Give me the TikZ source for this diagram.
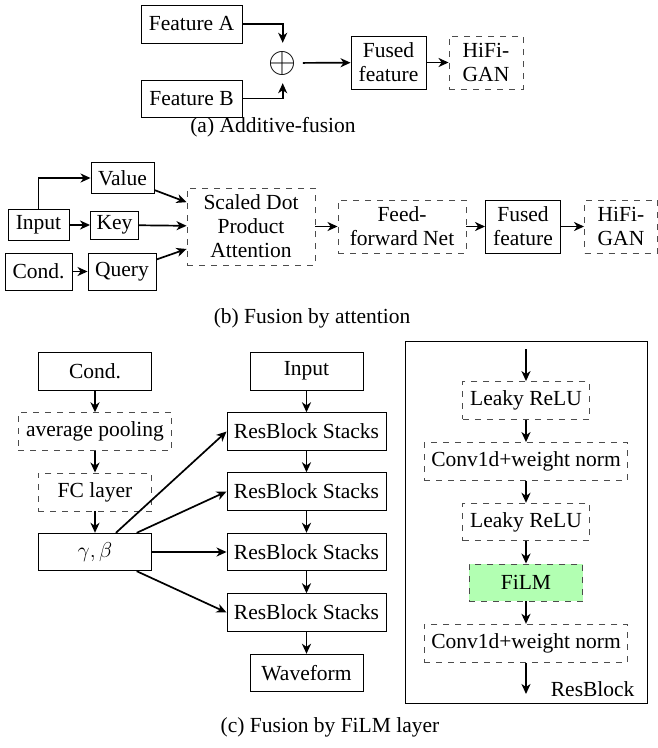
\RequirePackage{fix-cm}
\documentclass[tikz,border=0pt]{standalone}
\usepackage{fontspec}
\setmainfont{Liberation Serif}
\usetikzlibrary{arrows.meta}
\begin{document}
\begin{tikzpicture}[x=1pt,y=-1pt,
    font=\fontsize{21.5}{24}\selectfont,
    blk/.style={draw, line width=0.9pt, inner sep=0pt, align=center},
    dblk/.style={blk, draw=black!70, dash pattern=on 6pt off 6pt},
    sz/.style 2 args={minimum width=#1pt, minimum height=#2pt},
    arr/.style={-{Stealth[length=10pt,width=9pt,inset=3pt]}, line width=1.7pt}]
  \useasboundingbox (0,0) rectangle (658,748);
  % (a) additive fusion
  \draw
    (191.5,24) node[blk,sz={101}{38}] (fa){Feature A}
    (191.5,98.5) node[blk,sz={101}{37}] (fb){Feature B}
    (282.7,63) node[circle,inner sep=0pt,minimum size=40pt] (plus){\fontsize{36}{36}\selectfont$\oplus$}
    (388.5,62.5) node[blk,sz={75}{53}] (fusa){Fused\\feature}
    (486,62.5) node[dblk,sz={74}{53}] (hifia){HiFi-\\GAN}
    (273,127) node (capa){(a) Additive-fusion};
  % (b) fusion by attention
  \draw
    (122.5,178) node[blk,sz={63}{31}] (val){Value}
    (38.5,225) node[blk,sz={61}{31}] (inb){Input}
    (114.5,225) node[blk,sz={48}{28}] (key){Key}
    (38.5,271.5) node[blk,sz={67}{37}] (condb){Cond.}
    (122,271.5) node[blk,sz={68}{37}] (qry){Query}
    (251,226.5) node[dblk,sz={128}{77}] (sdpa){Scaled Dot\\Product\\Attention}
    (402,226.5) node[dblk,sz={128}{53}] (ffn){Feed-\\forward Net}
    (523,226.5) node[blk,sz={75}{53}] (fusb){Fused\\feature}
    (621,226.5) node[dblk,sz={73}{53}] (hifib){HiFi-\\GAN}
    (312,318) node (capb){(b) Fusion by attention};
  % (c) fusion by FiLM layer
  \draw
    (95,371) node[blk,sz={113.5}{38}] (condc){Cond.}
    (95,431.5) node[dblk,sz={153.5}{37.5}] (pool){average pooling}
    (95,492) node[dblk,sz={113.5}{38}] (fc){FC layer}
    (95,552) node[blk,sz={113.5}{37.5}] (gb){$\gamma,\beta$}
    (306.5,371) node[blk,sz={113}{38}] (inc){Input}
    (306.5,431.5) node[blk,sz={159}{37.5}] (rb1){ResBlock Stacks}
    (306.5,491.5) node[blk,sz={159}{37.5}] (rb2){ResBlock Stacks}
    (306.5,552) node[blk,sz={159}{37.5}] (rb3){ResBlock Stacks}
    (306.5,612.5) node[blk,sz={159}{37.5}] (rb4){ResBlock Stacks}
    (306.5,673) node[blk,sz={113}{37.5}] (wave){Waveform}
    (330,727) node (capc){(c) Fusion by FiLM layer};
  % ResBlock detail
  \draw[line width=0.9pt] (405,341) rectangle (647,703);
  \draw
    (526,400.3) node[dblk,sz={126.5}{37.5}] (lr1){Leaky ReLU}
    (526,461.3) node[dblk,sz={203.5}{37.5}] (cv1){Conv1d+weight norm}
    (526,522) node[dblk,sz={126.5}{37.5}] (lr2){Leaky ReLU}
    (526,582.5) node[dblk,fill=green!30,sz={113.5}{37}] (film){FiLM}
    (526,643.3) node[dblk,sz={203.5}{38}] (cv2){Conv1d+weight norm}
    (638,696.5) node[anchor=base east] (rblab){ResBlock};
  \coordinate (rin) at (526,349);
  \coordinate (rout) at (526,694);
  \begin{scope}[arr]
    \draw (fa.east) -| (plus.north);
    \draw (fb.east) -| (plus.south);
    \draw (plus) to (fusa);
    \draw (fusa) to (hifia);
    \draw (inb.north) |- (val.west);
    \draw (inb) to (key);
    \draw (condb) to (qry);
    \draw (val) to (sdpa);
    \draw (key) to (sdpa);
    \draw (qry) to (sdpa);
    \draw (sdpa) to (ffn);
    \draw (ffn) to (fusb);
    \draw (fusb) to (hifib);
    \draw (condc) to (pool);
    \draw (pool) to (fc);
    \draw (fc) to (gb);
    \draw (gb) to (rb1.west);
    \draw (gb) to (rb2.west);
    \draw (gb) to (rb3.west);
    \draw (gb) to (rb4.west);
    \draw (inc) to (rb1);
    \draw (rb1) to (rb2);
    \draw (rb2) to (rb3);
    \draw (rb3) to (rb4);
    \draw (rb4) to (wave);
    \draw (rin) to (lr1);
    \draw (lr1) to (cv1);
    \draw (cv1) to (lr2);
    \draw (lr2) to (film);
    \draw (film) to (cv2);
    \draw (cv2) to (rout);
  \end{scope}
\end{tikzpicture}
\end{document}
